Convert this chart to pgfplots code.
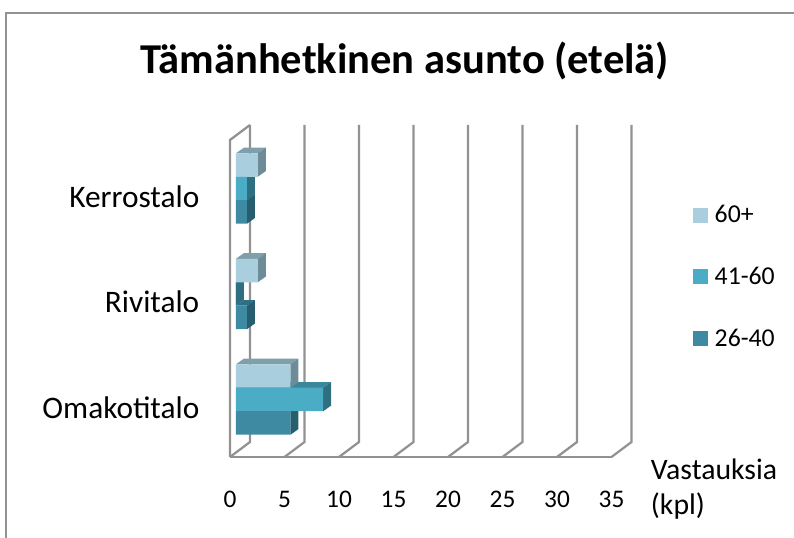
\documentclass[border=0pt]{standalone}
\usepackage{fontspec}
\setmainfont{Carlito}
\usepackage{pgfplots}
\pgfplotsset{compat=1.18}
\definecolor{gridc}{HTML}{929292}
\definecolor{frontA}{HTML}{A9CFDF}
\definecolor{topA}{HTML}{7F9FAC}
\definecolor{sideA}{HTML}{6E8C98}
\definecolor{frontB}{HTML}{4BACC6}
\definecolor{topB}{HTML}{3A879C}
\definecolor{sideB}{HTML}{2F6F82}
\definecolor{frontC}{HTML}{3D8AA2}
\definecolor{topC}{HTML}{2F6F82}
\definecolor{sideC}{HTML}{265E6E}
% value, category y, top colour, side colour
\newcommand{\barfaces}[4]{%
  \pgfmathsetmacro{\xa}{#1}%
  \pgfmathsetmacro{\xb}{#1+0.733}%
  \pgfmathsetmacro{\yb}{#2-0.11135}%
  \pgfmathsetmacro{\yt}{#2+0.11135}%
  \pgfmathsetmacro{\ybb}{#2-0.11135+0.054}%
  \pgfmathsetmacro{\ytt}{#2+0.11135+0.054}%
  \pgfmathsetmacro{\xo}{0.733}%
  \addplot[fill=#3,draw=none,forget plot] coordinates {(0,\yt) (\xa,\yt) (\xb,\ytt) (\xo,\ytt)};
  \addplot[fill=#4,draw=none,forget plot] coordinates {(\xa,\yb) (\xa,\yt) (\xb,\ytt) (\xb,\ybb)};
}
\begin{document}
\begin{tikzpicture}
\path[use as bounding box] (-172.5pt,-60.75pt) rectangle (423pt,342.75pt);
\draw[gridc,line width=1.7pt] (-168pt,-60.75pt) -- (-168pt,333pt) -- (423pt,333pt);
\begin{axis}[
  scale only axis, width=301.5pt, height=249pt,
  xmin=-0.55, xmax=36.33, ymin=-0.545, ymax=2.602,
  clip=false,
  axis line style={draw=none},
  tick style={draw=none},
  major tick length=0pt,
  xtick={-0.55,4.45,9.45,14.45,19.45,24.45,29.45,34.45},
  xticklabels={0,5,10,15,20,25,30,35},
  ytick={0,1,2},
  yticklabels={Omakotitalo,Rivitalo,Kerrostalo},
  xticklabel style={font=\fontsize{19}{20}\selectfont, yshift=-22pt},
  yticklabel style={font=\fontsize{23.5}{26}\selectfont, anchor=east, xshift=-19.5pt, yshift=-6pt},
  title={\fontsize{31.9}{36}\selectfont\bfseries Tämänhetkinen asunto (etelä)},
  title style={at={(axis cs:15.5,3.13)}, anchor=center},
  xlabel={Vastauksia\\(kpl)},
  xlabel style={font=\fontsize{22.3}{26}\selectfont, align=left, at={(axis cs:37.64,-0.85)}, anchor=west},
  legend style={draw=none, fill=none, at={(axis cs:41.9,1.865)}, anchor=north west,
    font=\fontsize{19.3}{20}\selectfont, row sep=27.75pt, inner sep=0pt, outer sep=0pt},
  legend cell align=left,
  legend image code/.code={\fill[#1] (0pt,-5.6pt) rectangle (11.25pt,5.6pt); \path (0pt,0pt) (14.5pt,0pt);},
]
% walls and floor
\addplot[gridc,line width=1.7pt,forget plot] coordinates {(-0.55,-0.545) (34.45,-0.545)};
\addplot[gridc,line width=1.7pt,forget plot] coordinates {(-0.55,-0.545) (-0.55,2.46) (1.283,2.602)};
\addplot[gridc,line width=1.7pt,forget plot] coordinates {(-0.55,-0.545) (1.283,-0.403) (1.283,2.602)};
\addplot[gridc,line width=1.7pt,forget plot] coordinates {(4.45,-0.545) (6.283,-0.403) (6.283,2.602)};
\addplot[gridc,line width=1.7pt,forget plot] coordinates {(9.45,-0.545) (11.283,-0.403) (11.283,2.602)};
\addplot[gridc,line width=1.7pt,forget plot] coordinates {(14.45,-0.545) (16.283,-0.403) (16.283,2.602)};
\addplot[gridc,line width=1.7pt,forget plot] coordinates {(19.45,-0.545) (21.283,-0.403) (21.283,2.602)};
\addplot[gridc,line width=1.7pt,forget plot] coordinates {(24.45,-0.545) (26.283,-0.403) (26.283,2.602)};
\addplot[gridc,line width=1.7pt,forget plot] coordinates {(29.45,-0.545) (31.283,-0.403) (31.283,2.602)};
\addplot[gridc,line width=1.7pt,forget plot] coordinates {(34.45,-0.545) (36.283,-0.403) (36.283,2.602)};
% depth faces: 26-40
\barfaces{5}{-0.2227}{topC}{sideC}
\barfaces{1}{0.7773}{topC}{sideC}
\barfaces{1}{1.7773}{topC}{sideC}
% depth faces: 41-60
\barfaces{8}{0}{topB}{sideB}
\barfaces{0}{1}{topB}{sideB}
\barfaces{1}{2}{topB}{sideB}
% depth faces: 60+
\barfaces{5}{0.2227}{topA}{sideA}
\barfaces{2}{1.2227}{topA}{sideA}
\barfaces{2}{2.2227}{topA}{sideA}
% front faces
\addplot[xbar,bar width=0.2227,bar shift=0.2227,fill=frontA,draw=none] coordinates {(5,0) (2,1) (2,2)};
\addlegendentry{60+}
\addplot[xbar,bar width=0.2227,bar shift=0,fill=frontB,draw=none] coordinates {(8,0) (0,1) (1,2)};
\addlegendentry{41-60}
\addplot[xbar,bar width=0.2227,bar shift=-0.2227,fill=frontC,draw=none] coordinates {(5,0) (1,1) (1,2)};
\addlegendentry{26-40}
\end{axis}
\end{tikzpicture}
\end{document}
